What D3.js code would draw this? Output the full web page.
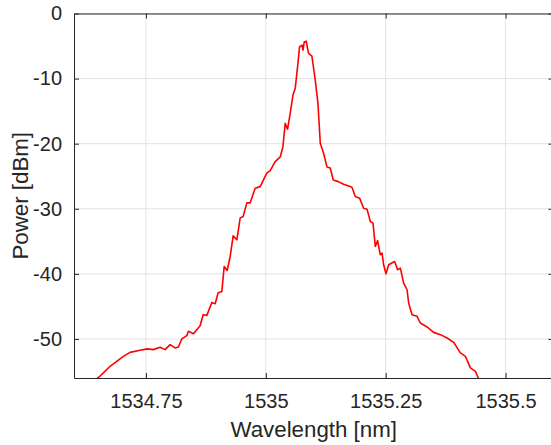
<!DOCTYPE html>
<meta charset="utf-8">
<script src="https://cdn.jsdelivr.net/npm/d3@7"></script>
<style>
  body { margin: 0; background: #fff; }
  text { font-family: "Liberation Sans", Arial, sans-serif; fill: #262626; }
</style>
<body>
<script>

// spectrum
var wavelength = [
  1534.6460, 1534.6543, 1534.6612, 1534.6752, 1534.6891, 1534.7029, 1534.7169, 1534.7378,
  1534.7530, 1534.7656, 1534.7795, 1534.7900, 1534.8004, 1534.8109, 1534.8177, 1534.8248,
  1534.8353, 1534.8386, 1534.8491, 1534.8630, 1534.8693,
  1534.8770, 1534.8875, 1534.8944, 1534.9006, 1534.9084, 1534.9132, 1534.9194, 1534.9257,
  1534.9319, 1534.9397, 1534.9466, 1534.9528, 1534.9605, 1534.9674, 1534.9779, 1534.9883,
  1535.0023, 1535.0092, 1535.0196, 1535.0301, 1535.0357, 1535.0405, 1535.0453, 1535.0509,
  1535.0566, 1535.0614, 1535.0670, 1535.0704, 1535.0754, 1535.0775, 1535.0802, 1535.0843,
  1535.0891, 1535.0962, 1535.1031, 1535.1088, 1535.1136, 1535.1205, 1535.1276, 1535.1344,
  1535.1407, 1535.1511, 1535.1622, 1535.1797, 1535.1866, 1535.1956, 1535.2040, 1535.2111,
  1535.2180, 1535.2236, 1535.2284, 1535.2332, 1535.2388, 1535.2424, 1535.2457, 1535.2507,
  1535.2562, 1535.2687, 1535.2749, 1535.2806, 1535.2875, 1535.2946, 1535.2979, 1535.3050,
  1535.3154, 1535.3223, 1535.3363, 1535.3501, 1535.3641, 1535.3781, 1535.3919, 1535.4058,
  1535.4163, 1535.4267, 1535.4372, 1535.4441
];
var power = [
  -56.20, -55.70, -55.21, -54.20, -53.44, -52.67, -52.06, -51.75,
  -51.53, -51.64, -51.29, -51.64, -50.87, -51.38, -51.23, -50.00,
  -49.49, -48.83, -49.19, -47.96, -46.27,
  -46.38, -44.39, -44.59, -42.90, -42.70, -38.87, -39.48, -37.33,
  -34.16, -34.77, -31.40, -31.20, -29.09, -29.09, -26.84, -26.60,
  -24.49, -24.14, -22.76, -22.04, -20.46, -16.87, -17.79, -15.34,
  -12.53, -11.50, -7.67, -5.12, -4.86, -5.63, -4.36, -4.25,
  -6.13, -6.55, -10.23, -13.80, -19.94, -21.47, -23.57, -23.73,
  -25.57, -25.83, -26.23, -26.69, -28.13, -28.37, -29.91, -30.06,
  -31.96, -32.21, -35.80, -34.88, -37.07, -36.81, -38.60, -39.98,
  -38.60, -38.10, -39.37, -39.11, -41.41, -42.44, -44.48, -46.27,
  -46.53, -47.55, -48.16, -48.99, -49.34, -49.85, -50.52, -52.15,
  -52.67, -54.45, -54.97, -56.20
];
var xTicks = [1534.75, 1535, 1535.25, 1535.5];
var yTicks = [0, -10, -20, -30, -40, -50];

var W = 551, H = 445;
var margin = {top: 13.5, right: -2.5, bottom: 67, left: 74};
var width = W - margin.left - margin.right;
var height = H - margin.top - margin.bottom;

var x = d3.scaleLinear().domain([1534.6, 1535.6]).range([0, width]);
var y = d3.scaleLinear().domain([-56, 0]).range([height, 0]);

var svg = d3.select("body").append("svg")
    .attr("width", W)
    .attr("height", H)
    .append("g")
    .attr("transform", "translate(" + margin.left + "," + margin.top + ")");

// grid
svg.append("g").selectAll("line").data(xTicks).enter().append("line")
    .attr("x1", x).attr("x2", x).attr("y1", 0).attr("y2", height)
    .attr("stroke", "#e3e3e3").attr("stroke-width", 1);
svg.append("g").selectAll("line").data(yTicks).enter().append("line")
    .attr("y1", y).attr("y2", y).attr("x1", 0).attr("x2", width)
    .attr("stroke", "#e3e3e3").attr("stroke-width", 1);

// curve
svg.append("clipPath").attr("id", "clip").append("rect")
    .attr("width", width).attr("height", height);
var pts = d3.zip(wavelength, power);
svg.append("path").datum(pts)
    .attr("clip-path", "url(#clip)")
    .attr("fill", "none")
    .attr("stroke", "#ff0000")
    .attr("stroke-width", 1.6)
    .attr("stroke-linejoin", "round")
    .attr("d", d3.line().x(function(d) { return x(d[0]); }).y(function(d) { return y(d[1]); }));

// axes, MATLAB style box with inward ticks
function styleAxis(g) {
  g.select(".domain").attr("stroke", "#262626").attr("stroke-width", 1);
  g.selectAll(".tick line").attr("stroke", "#262626");
  g.selectAll(".tick text").style("font-size", "20px").attr("fill", "#262626");
}
var fmt = function(d) { return String(d); };

svg.append("g").attr("transform", "translate(0," + height + ")")
    .call(d3.axisBottom(x).tickValues(xTicks).tickFormat(fmt).tickSizeInner(-5).tickSizeOuter(0).tickPadding(16))
    .call(styleAxis);
svg.append("g")
    .call(d3.axisTop(x).tickValues(xTicks).tickFormat("").tickSizeInner(-5).tickSizeOuter(0))
    .call(styleAxis);
svg.append("g")
    .call(d3.axisLeft(y).tickValues(yTicks).tickFormat(fmt).tickSizeInner(-5).tickSizeOuter(0).tickPadding(12))
    .call(styleAxis);
svg.append("g").attr("transform", "translate(" + width + ",0)")
    .call(d3.axisRight(y).tickValues(yTicks).tickFormat("").tickSizeInner(-5).tickSizeOuter(0))
    .call(styleAxis);

// labels
svg.append("text")
    .attr("x", x(1535.1)).attr("y", height + 59)
    .attr("text-anchor", "middle")
    .style("font-size", "22.3px")
    .text("Wavelength [nm]");
svg.append("text")
    .attr("transform", "translate(" + (-46) + "," + (height / 2) + ") rotate(-90)")
    .attr("text-anchor", "middle")
    .style("font-size", "22.3px")
    .text("Power [dBm]");

</script>
</body>
</html>
